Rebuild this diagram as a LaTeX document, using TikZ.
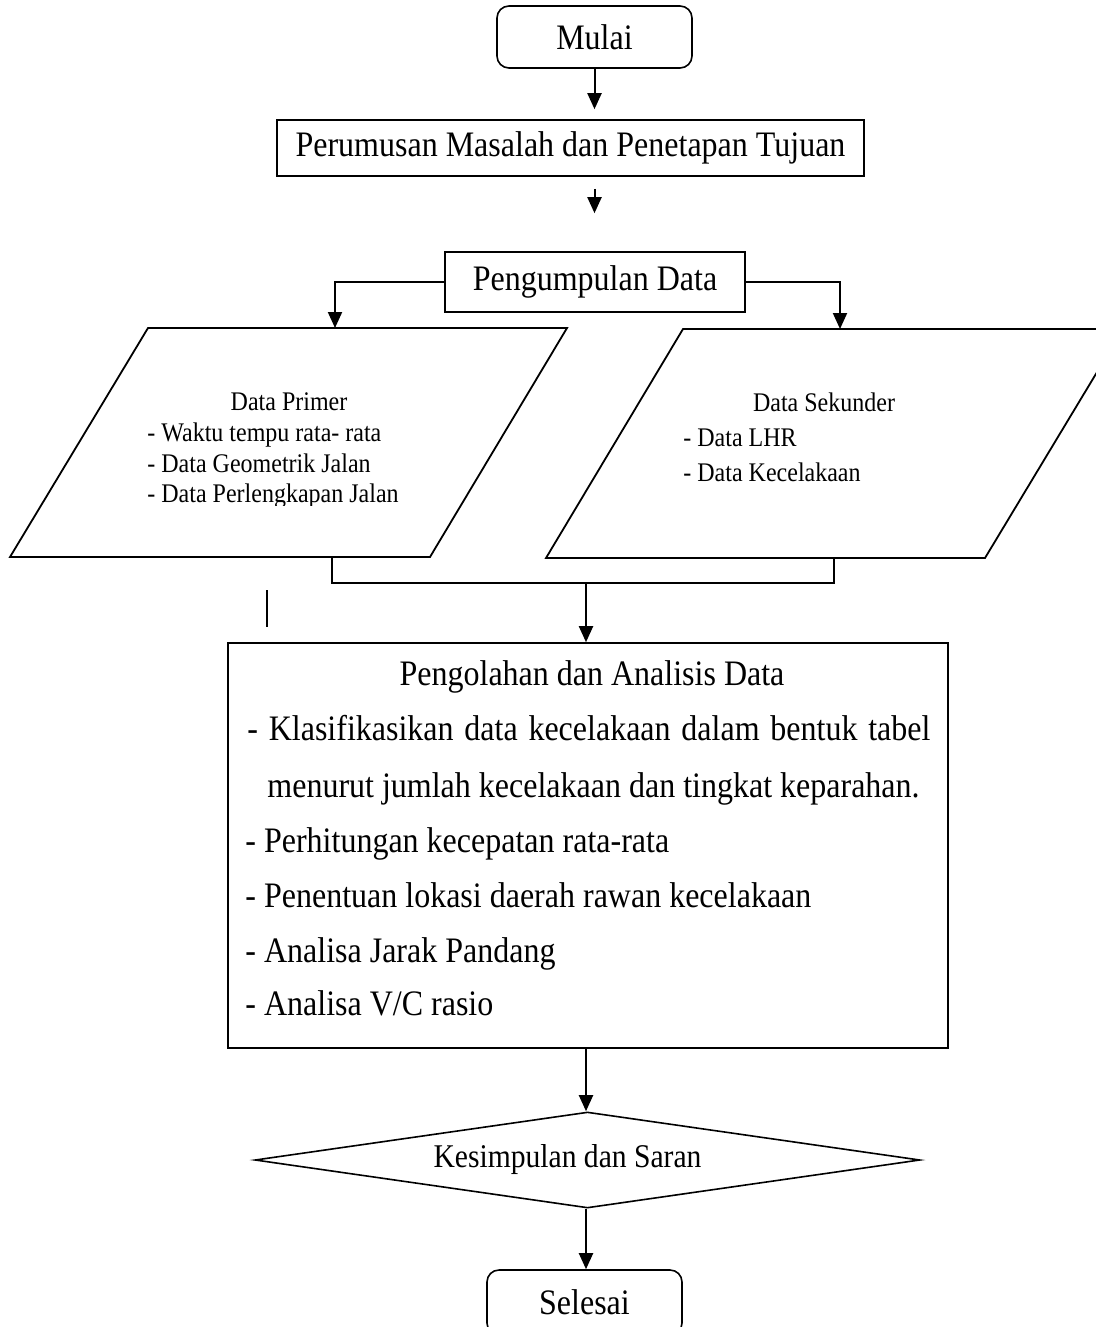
\documentclass[tikz,border=0pt]{standalone}
\usepackage{graphicx}
\usepackage{fontspec}
\setmainfont{Liberation Serif}
\usetikzlibrary{arrows.meta,shapes.geometric}
\newcommand{\tall}[1]{\scalebox{1}[1.12]{#1}}
\begin{document}
\begin{tikzpicture}[x=0.5pt,y=-0.5pt,
  box/.style={draw, line width=0.8pt, inner sep=0pt},
  conn/.style={line width=1pt},
  arr/.style={line width=1pt, -{Triangle[length=8pt,width=7pt]}},
  para/.style={draw, line width=0.9pt, line join=miter},
  big/.style={font=\fontsize{16}{19}\selectfont},
  mid/.style={font=\fontsize{14.8}{18}\selectfont},
  small/.style={font=\fontsize{12}{15}\selectfont},
  txt/.style={inner sep=0pt}]
\useasboundingbox (0,0) rectangle (1096,1327);

% main boxes
\node[box, rounded corners=6pt, minimum width=97.5pt, minimum height=31pt, big] (mulai) at (594.5,37) {\tall{Mulai}};
\node[box, minimum width=293.5pt, minimum height=28pt, big] (perumusan) at (570.5,148) {\tall{Perumusan Masalah dan Penetapan Tujuan}};
\node[box, minimum width=150pt, minimum height=30pt, big] (pengumpulan) at (595,282) {\tall{Pengumpulan Data}};
\node[box, minimum width=360pt, minimum height=202.5pt] (analisis) at (588,845.5) {};
\node[draw, diamond, line width=0.8pt, minimum width=332.5pt, minimum height=48pt, inner sep=0pt,
      label={[mid, txt, xshift=-10pt]center:\tall{Kesimpulan dan Saran}}] (kesimpulan) at (587.5,1160) {};
\node[box, rounded corners=6pt, minimum width=97.5pt, minimum height=32.5pt, big] (selesai) at (584.5,1302.5) {\tall{Selesai}};

% parallelograms
\coordinate (lpt) at (335,328);
\coordinate (rpt) at (840,329);
\coordinate (lpb) at (332,557);
\coordinate (rpb) at (834,558);
\draw[para] (148,328) -- (567,328) -- (430,557) -- (10,557) -- cycle;
\begin{scope}
  \clip (0,0) rectangle (1096,1327);
  \draw[para] (683,329) -- (1123,329) -- (985,558) -- (546,558) -- cycle;
\end{scope}

% text of data primer
\node[small, txt, anchor=base] (primer) at (289,410) {\tall{Data Primer}};
\node[small, txt, anchor=base west] (p1) at (147,441) {\tall{- Waktu tempu rata- rata}};
\node[small, txt, anchor=base west] (p2) at (147,472) {\tall{- Data Geometrik Jalan}};
\begin{scope}
  \clip (100,480) rectangle (520,505);
  \node[small, txt, anchor=base west] (p3) at (147,502) {\tall{- Data Perlengkapan Jalan}};
\end{scope}

% text of data sekunder
\node[small, txt, anchor=base] (sekunder) at (824,411) {\tall{Data Sekunder}};
\node[small, txt, anchor=base west] (s1) at (683,446) {\tall{- Data LHR}};
\node[small, txt, anchor=base west] (s2) at (683,481) {\tall{- Data Kecelakaan}};

% text of analysis box
\node[big, txt, anchor=base] (a0) at (592,685) {\tall{Pengolahan dan Analisis Data}};
\node[big, txt, anchor=base west] (a1) at (247,740) {\tall{\makebox[341.5pt][s]{- Klasifikasikan data kecelakaan dalam bentuk tabel}}};
\node[big, txt, anchor=base west] (a2) at (267,797) {\tall{menurut jumlah kecelakaan dan tingkat keparahan.}};
\node[big, txt, anchor=base west] (a3) at (245,852) {\tall{- Perhitungan kecepatan rata-rata}};
\node[big, txt, anchor=base west] (a4) at (245,907) {\tall{- Penentuan lokasi daerah rawan kecelakaan}};
\node[big, txt, anchor=base west] (a5) at (245,962) {\tall{- Analisa Jarak Pandang}};
\node[big, txt, anchor=base west] (a6) at (245,1015) {\tall{- Analisa V/C rasio}};

% connectors
\draw[arr, shorten >=5pt] (mulai.south) -- (mulai.south |- perumusan.north);
\draw[arr, shorten <=6pt, shorten >=19pt] (perumusan.south -| mulai.south) -- (pengumpulan.north -| mulai.south);
\draw[arr] (pengumpulan.west) -| (lpt);
\draw[arr] (pengumpulan.east) -| (rpt);
\coordinate (join) at (586,583);
\draw[conn] (lpb) |- (join) -| (rpb);
\draw[arr] (join) -- (join |- analisis.north);
\coordinate (stray1) at (267,590);
\coordinate (stray2) at (267,627);
\draw[conn] (stray1) -- (stray2);
\draw[arr] (analisis.south -| join) -- (kesimpulan.north -| join);
\draw[arr] (kesimpulan.south -| join) -- (selesai.north -| join);
\end{tikzpicture}
\end{document}
